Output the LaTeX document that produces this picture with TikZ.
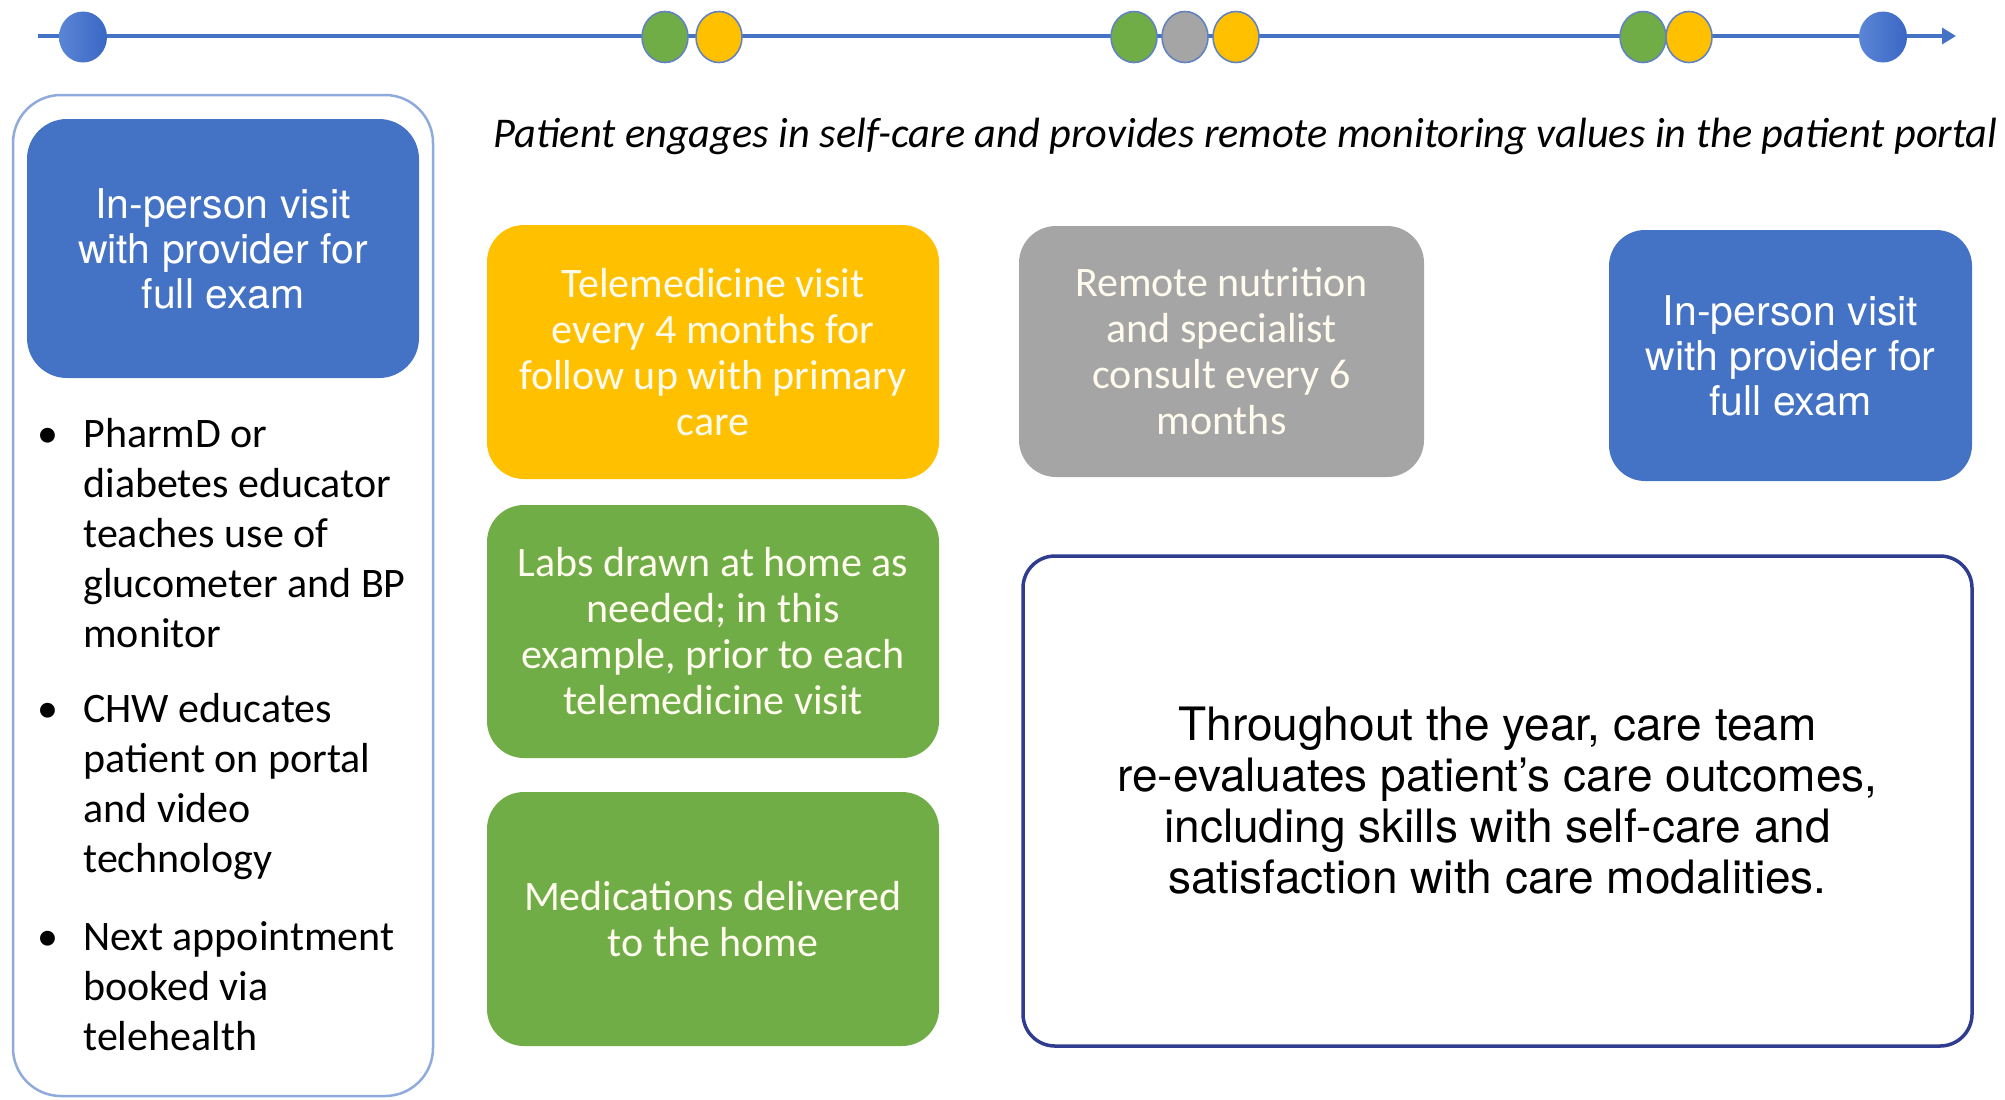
\documentclass[tikz,border=0pt]{standalone}
\usepackage{fontspec}
\usepackage{graphicx}
\setmainfont{Carlito}
\newfontfamily\heros{TeX Gyre Heros}
\usetikzlibrary{shapes.geometric,arrows.meta}
\definecolor{oblue}{HTML}{4472C4}
\definecolor{oyellow}{HTML}{FFC000}
\definecolor{ogreen}{HTML}{70AD47}
\definecolor{ogrey}{HTML}{A5A5A5}
\definecolor{lightframe}{HTML}{8FAADC}
\definecolor{darkframe}{HTML}{2F3C8F}
\definecolor{dotline}{HTML}{6382C0}
\definecolor{cream}{HTML}{FFFBEE}
\definecolor{dotleft}{HTML}{5B85D6}
\definecolor{dotright}{HTML}{3A67C4}
\begin{document}
\begin{tikzpicture}[x=0.5pt,y=-0.5pt,
 dot/.style={ellipse, draw=dotline, line width=0.8pt, minimum width=23pt, minimum height=25.5pt, inner sep=0pt},
 bluedot/.style={ellipse, minimum width=24pt, minimum height=25.5pt, inner sep=0pt, left color=dotleft, right color=dotright},
 card/.style={rounded corners=18.5pt, inner sep=0pt, align=center, text=cream, font={\fontsize{21}{23}\selectfont}},
 bluecard/.style={card, fill=oblue, text=white, font={\heros\fontsize{20.5}{22.5}\selectfont}},
 bul/.style={anchor=base west, inner sep=0pt, font={\fontsize{21}{25}\selectfont}},
]
\useasboundingbox (0,0) rectangle (2005,1099);

% timeline
\coordinate (tstart) at (38,36);
\coordinate (tend) at (1956,36);
\draw[oblue, line width=1.6pt, -{Triangle[length=7pt,width=8pt]}] (tstart) -- (tend);
\node[bluedot]           (d1) at (83,37) {};
\node[dot, fill=ogreen]  (d2) at (665,37) {};
\node[dot, fill=oyellow] (d3) at (719,37) {};
\node[dot, fill=ogreen]  (d4) at (1134,37) {};
\node[dot, fill=ogrey]   (d5) at (1185,37) {};
\node[dot, fill=oyellow] (d6) at (1236,37) {};
\node[dot, fill=ogreen]  (d7) at (1643,37) {};
\node[dot, fill=oyellow] (d8) at (1689,37) {};
\node[bluedot]           (d9) at (1883,37) {};

% left column
\node[draw=lightframe, line width=1.25pt, rounded corners=24pt, minimum width=210pt, minimum height=500.5pt, inner sep=0pt] (frame) at (223,595.5) {};
\node[bluecard, rounded corners=20pt, minimum width=196pt, minimum height=129.5pt] (visit1) at (223,248.5) {In-person visit\\with provider for\\full exam};

\node[bul, anchor=base] (bd1) at (48,447) {\textbullet};
\node[bul] (bt1) at (83,447) {\vtop{\hbox{PharmD or}\hbox{diabetes educator}\hbox{teaches use of}\hbox{glucometer and BP}\hbox{monitor}}};
\node[bul, anchor=base] (bd2) at (48,722) {\textbullet};
\node[bul] (bt2) at (83,722) {\vtop{\hbox{CHW educates}\hbox{patient on portal}\hbox{and video}\hbox{technology}}};
\node[bul, anchor=base] (bd3) at (48,950) {\textbullet};
\node[bul] (bt3) at (83,950) {\vtop{\hbox{Next appointment}\hbox{booked via}\hbox{telehealth}}};

% italic heading
\node[anchor=base west, inner sep=0pt] (selfcare) at (493,147) {\resizebox{752pt}{!}{\itshape\fontsize{20}{24}\selectfont Patient engages in self-care and provides remote monitoring values in the patient portal}};

% cards
\node[card, fill=oyellow, minimum width=226pt, minimum height=127pt] (tele) at (713,352) {Telemedicine visit\\every 4 months for\\follow up with primary\\care};
\node[card, fill=ogrey, minimum width=202.5pt, minimum height=125.5pt] (nutri) at (1221.5,351.5) {Remote nutrition\\and specialist\\consult every 6\\months};
\node[bluecard, rounded corners=18pt, minimum width=181.5pt, minimum height=125.5pt] (visit2) at (1790.5,355.5) {In-person visit\\with provider for\\full exam};
\node[card, fill=ogreen, minimum width=226pt, minimum height=126.5pt] (labs) at (713,631.5) {Labs drawn at home as\\needed; in this\\example, prior to each\\telemedicine visit};
\node[card, fill=ogreen, minimum width=226pt, minimum height=127pt] (meds) at (713,919) {Medications delivered\\to the home};

\node[draw=darkframe, line width=1.75pt, rounded corners=16pt, minimum width=474.5pt, minimum height=245pt, inner sep=0pt, align=center, font={\heros\fontsize{23}{25.5}\selectfont}] (review) at (1497.5,801) {Throughout the year, care team\\re-evaluates patient’s care outcomes,\\including skills with self-care and\\satisfaction with care modalities.};
\end{tikzpicture}
\end{document}
